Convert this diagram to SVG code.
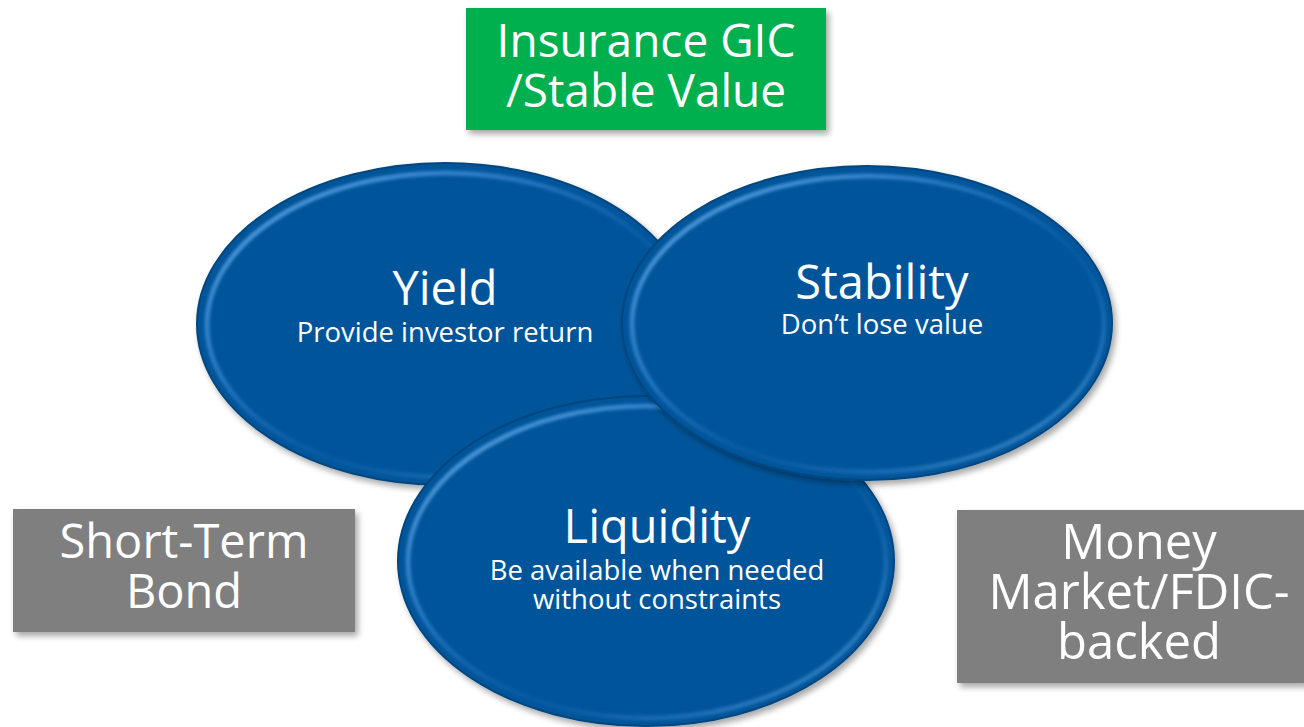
<svg xmlns="http://www.w3.org/2000/svg" width="1304" height="727" viewBox="0 0 1304 727">
<style>
.t{font-family:"Open Sans","Noto Sans",sans-serif;fill:#ffffff;text-anchor:middle}
.big{font-size:47px}
.sm{font-size:27.5px}
.box{font-size:46px}
.boxl{font-size:47px}
.boxr{font-size:49px}
.rim{fill:none;stroke:url(#rimg);stroke-width:5}
.ell{fill:#03559a;stroke:#02467f;stroke-width:2}
</style>
<defs>
<filter id="sh" x="-10%" y="-10%" width="130%" height="130%">
<feGaussianBlur in="SourceAlpha" stdDeviation="3"/>
<feOffset dx="3" dy="4" result="b"/>
<feComponentTransfer><feFuncA type="linear" slope="0.35"/></feComponentTransfer>
<feMerge><feMergeNode/><feMergeNode in="SourceGraphic"/></feMerge>
</filter>
<filter id="bl"><feGaussianBlur stdDeviation="1.5"/></filter>
<linearGradient id="rimg" x1="0" y1="0" x2="1" y2="1">
<stop offset="0" stop-color="#6fb3f0" stop-opacity="0.9"/>
<stop offset="0.35" stop-color="#3a8ad6" stop-opacity="0.6"/>
<stop offset="0.6" stop-color="#1a6ab8" stop-opacity="0.2"/>
<stop offset="1" stop-color="#6fb3f0" stop-opacity="0.7"/>
</linearGradient>
</defs>
<g id="insurance-gic">
<rect x="466" y="8" width="360" height="122" fill="#00b050" filter="url(#sh)"/>
<text class="t box"><tspan x="646" y="57">Insurance GIC</tspan><tspan x="646" y="107">/Stable Value</tspan></text>
</g>
<g id="short-term-bond">
<rect x="13" y="509" width="342" height="123" fill="#7f7f7f" filter="url(#sh)"/>
<text class="t boxl"><tspan x="184" y="558">Short-Term</tspan><tspan x="184" y="608">Bond</tspan></text>
</g>
<g id="money-market">
<rect x="957" y="510" width="350" height="173" fill="#7f7f7f" filter="url(#sh)"/>
<text class="t boxr"><tspan x="1139" y="559">Money</tspan><tspan x="1139" y="609">Market/FDIC-</tspan><tspan x="1139" y="659">backed</tspan></text>
</g>
<g id="yield">
<ellipse class="ell" cx="445" cy="324" rx="248" ry="161" filter="url(#sh)"/>
<ellipse class="rim" cx="446" cy="325" rx="239" ry="152" filter="url(#bl)"/>
<text class="t"><tspan class="big" x="445" y="305">Yield</tspan><tspan class="sm" x="445" y="342">Provide investor return</tspan></text>
</g>
<g id="liquidity">
<ellipse class="ell" cx="646" cy="561" rx="248" ry="165" filter="url(#sh)"/>
<ellipse class="rim" cx="647" cy="562" rx="239" ry="156" filter="url(#bl)"/>
<text class="t"><tspan class="big" x="657" y="543">Liquidity</tspan><tspan class="sm" x="657" y="580">Be available when needed</tspan><tspan class="sm" x="657" y="609">without constraints</tspan></text>
</g>
<g id="stability">
<ellipse class="ell" cx="867" cy="323" rx="245" ry="157" filter="url(#sh)"/>
<ellipse class="rim" cx="868" cy="324" rx="236" ry="148" filter="url(#bl)"/>
<text class="t"><tspan class="big" x="882" y="299">Stability</tspan><tspan class="sm" x="882" y="334">Don’t lose value</tspan></text>
</g>
<g id="connectors"/>
</svg>
